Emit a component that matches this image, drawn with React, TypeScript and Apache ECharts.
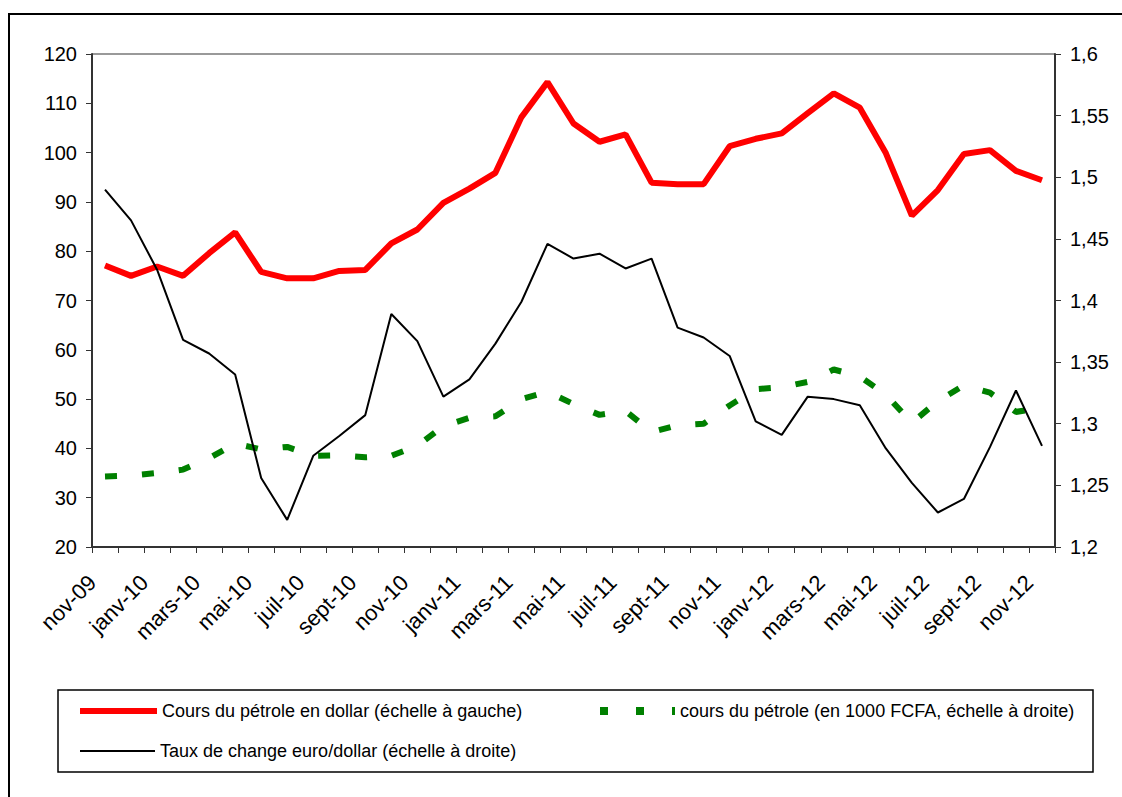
import React, { useEffect, useRef } from "react";
import * as echarts from "echarts";

const months = [
  "nov-09", "déc-09", "janv-10", "févr-10", "mars-10", "avr-10", "mai-10", "juin-10", "juil-10", "août-10",
  "sept-10", "oct-10", "nov-10", "déc-10", "janv-11", "févr-11", "mars-11", "avr-11", "mai-11", "juin-11",
  "juil-11", "août-11", "sept-11", "oct-11", "nov-11", "déc-11", "janv-12", "févr-12", "mars-12", "avr-12",
  "mai-12", "juin-12", "juil-12", "août-12", "sept-12", "oct-12", "nov-12",
];

const oilDollar = [
  77.1, 75.0, 76.9, 75.0, 79.6, 83.8, 75.8, 74.5, 74.5, 76.0,
  76.2, 81.6, 84.4, 89.8, 92.7, 95.9, 107.2, 114.3, 105.9, 102.2,
  103.7, 93.9, 93.6, 93.6, 101.3, 102.8, 103.9, 108.0, 112.0, 109.1,
  99.9, 87.2, 92.4, 99.7, 100.5, 96.3, 94.4,
];

const oilFcfa = [
  34.3, 34.5, 35.0, 35.7, 38.0, 41.0, 39.8, 40.3, 38.5, 38.6,
  38.2, 38.5, 40.5, 44.5, 46.2, 46.5, 50.0, 51.5, 49.0, 46.8,
  47.6, 43.3, 44.7, 45.0, 48.7, 52.0, 52.4, 53.5, 56.0, 54.6,
  50.9, 45.2, 49.6, 52.8, 51.3, 47.4, 48.3,
];

const eurUsd = [
  1.49, 1.465, 1.425, 1.368, 1.357, 1.34, 1.256, 1.222, 1.274, 1.29,
  1.307, 1.389, 1.367, 1.322, 1.336, 1.365, 1.399, 1.446, 1.434, 1.438,
  1.426, 1.434, 1.378, 1.37, 1.355, 1.302, 1.291, 1.322, 1.32, 1.315,
  1.28, 1.252, 1.228, 1.239, 1.281, 1.327, 1.282,
];

const seriesNames = [
  "Cours du pétrole en dollar (échelle à gauche)",
  "cours du pétrole (en 1000 FCFA, échelle à droite)",
  "Taux de change euro/dollar (échelle à droite)",
];

const FONT = "Liberation Sans, Arial, sans-serif";

export default function App() {
  const ref = useRef<HTMLDivElement>(null);
  useEffect(() => {
    if (!ref.current) return;
    const chart = echarts.init(ref.current, null, { renderer: "svg" });
    const gridLeft = 92, gridRight = 67, gridTop = 54, gridBottom = 250;
    const legendText = { fontSize: 18, color: "#000", fontFamily: FONT };
    chart.setOption({
      animation: false,
      backgroundColor: "#fff",
      textStyle: { fontFamily: FONT },
      grid: { left: gridLeft, right: gridRight, top: gridTop, bottom: gridBottom, containLabel: false },
      xAxis: {
        type: "category",
        data: months,
        boundaryGap: true,
        axisLine: { lineStyle: { color: "#333", width: 2 } },
        axisTick: { show: true, interval: 0, length: 6, lineStyle: { color: "#333", width: 1 } },
        axisLabel: {
          interval: 1, rotate: 45, fontSize: 22, color: "#000", margin: 19,
          padding: [0, 18, 0, 0], fontFamily: FONT,
        },
        splitLine: { show: false },
      },
      yAxis: [
        {
          type: "value",
          min: 20,
          max: 120,
          interval: 10,
          axisLine: { show: true, lineStyle: { color: "#333", width: 2 } },
          axisTick: { show: true, length: 6, lineStyle: { color: "#333" } },
          axisLabel: { fontSize: 20, color: "#000", margin: 15, fontFamily: FONT },
          splitLine: { show: false },
        },
        {
          type: "value",
          min: 1.2,
          max: 1.6,
          interval: 0.05,
          position: "right",
          axisLine: { show: true, lineStyle: { color: "#333", width: 2 } },
          axisTick: { show: true, length: 6, lineStyle: { color: "#333" } },
          axisLabel: {
            fontSize: 20,
            color: "#000",
            margin: 15,
            fontFamily: FONT,
            formatter: (v: number) => String(+v.toFixed(2)).replace(".", ","),
          },
          splitLine: { show: false },
        },
      ],
      legend: [
        {
          data: [{ name: seriesNames[0], icon: "rect" }],
          left: 80, top: 702, padding: 0, itemWidth: 77, itemHeight: 6,
          selectedMode: false, textStyle: legendText,
        },
        {
          data: [{ name: seriesNames[1], icon: "path://M0,0h8v8h-8zM36,0h8v8h-8zM72,0h3v8h-3z" }],
          left: 600, top: 702, padding: 0, itemWidth: 75, itemHeight: 8,
          selectedMode: false, textStyle: legendText,
        },
        {
          data: [{ name: seriesNames[2], icon: "rect" }],
          left: 80, top: 742, padding: 0, itemWidth: 75, itemHeight: 2,
          selectedMode: false, textStyle: legendText,
        },
      ],
      graphic: [
        {
          type: "rect",
          shape: { x: 9, y: 14, width: 1200, height: 900 },
          style: { fill: "none", stroke: "#000", lineWidth: 2 },
          silent: true,
          z: -1,
        },
        {
          type: "line",
          shape: { x1: gridLeft, y1: gridTop, x2: 1122 - gridRight, y2: gridTop },
          style: { stroke: "#999", lineWidth: 2 },
          silent: true,
        },
        {
          type: "rect",
          shape: { x: 58, y: 690, width: 1035, height: 82 },
          style: { fill: "none", stroke: "#000", lineWidth: 1.5 },
          silent: true,
        },
      ],
      series: [
        {
          name: seriesNames[0],
          type: "line",
          yAxisIndex: 0,
          data: oilDollar,
          symbol: "none",
          color: "#ff0000",
          lineStyle: { color: "#ff0000", width: 6 },
          z: 2,
        },
        {
          name: seriesNames[1],
          type: "line",
          yAxisIndex: 0,
          data: oilFcfa,
          symbol: "none",
          color: "#008000",
          lineStyle: { color: "#008000", width: 6, type: [12, 25] },
          z: 3,
        },
        {
          name: seriesNames[2],
          type: "line",
          yAxisIndex: 1,
          data: eurUsd,
          symbol: "none",
          color: "#000",
          lineStyle: { color: "#000", width: 2 },
          z: 4,
        },
      ],
    });
    return () => chart.dispose();
  }, []);
  return (
    <div
      ref={ref}
      style={{ position: "absolute", left: 0, top: 0, width: 1122, height: 797, background: "#fff" }}
    />
  );
}
